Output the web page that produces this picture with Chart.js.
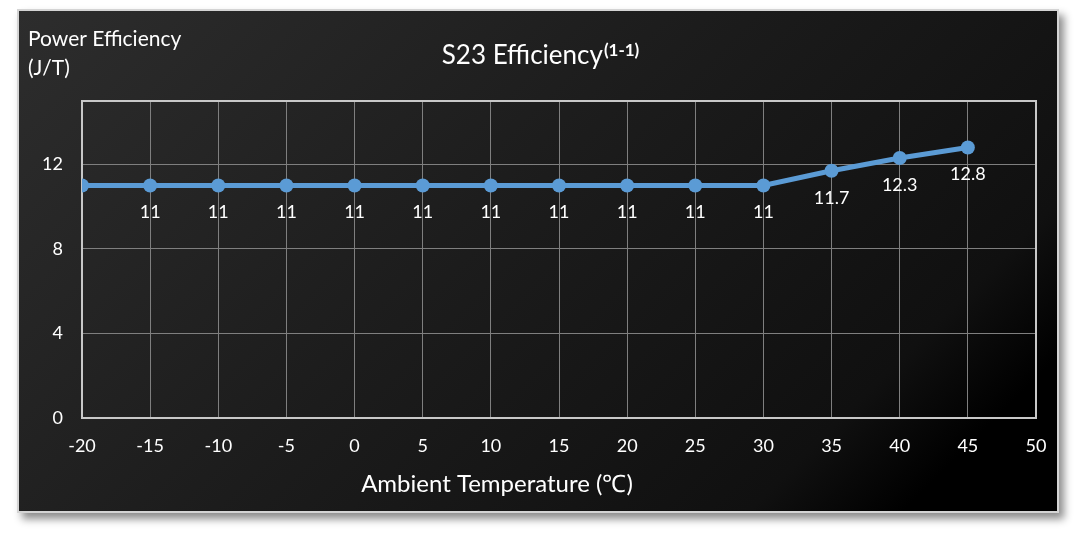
<!DOCTYPE html>
<html>
<head>
<meta charset="utf-8">
<script src="https://cdn.jsdelivr.net/npm/chart.js@4.4.0/dist/chart.umd.min.js"></script>
<style>
    body { margin: 0; background: #ffffff; width: 1076px; height: 538px; overflow: hidden; }
    #cadre {
        position: absolute; left: 17px; top: 9px;
        width: 1038px; height: 500px;
        border: 2px solid #d4d4d4;
        background: linear-gradient(135deg, #2d2d2d 0%, #1c1c1c 45%, #101010 80%, #000000 90%);
        box-shadow: 5px 6px 8px rgba(0,0,0,0.45);
    }
    canvas { display: block; }
</style>
</head>
<body>
<div id="cadre"><canvas id="chart" width="1038" height="500"></canvas></div>
<script>
// données
const temperatures = [-20, -15, -10, -5, 0, 5, 10, 15, 20, 25, 30, 35, 40, 45];
const efficacite = [11, 11, 11, 11, 11, 11, 11, 11, 11, 11, 11, 11.7, 12.3, 12.8];
const ticksY = [0, 4, 8, 12];

const police = "Lato, 'Open Sans', sans-serif";

// titre, libellés d'axes, étiquettes de valeurs
const textes = {
    id: "textes",
    beforeDatasetsDraw(chart) {
        const ctx = chart.ctx;
        const a = chart.chartArea;
        ctx.save();
        ctx.strokeStyle = "#c8c8c8";
        ctx.lineWidth = 2;
        ctx.strokeRect(a.left, a.top, a.right - a.left, a.bottom - a.top);
        ctx.restore();
    },
    afterDatasetsDraw(chart) {
        const ctx = chart.ctx;
        ctx.save();
        ctx.fillStyle = "#ffffff";
        // titre avec exposant
        ctx.textBaseline = "alphabetic";
        const t1 = "S23 Efficiency";
        ctx.font = "26px " + police;
        const w1 = ctx.measureText(t1).width;
        ctx.font = "bold 17px " + police;
        const w2 = ctx.measureText("(1-1)").width;
        let x = 521 - (w1 + w2) / 2;
        ctx.font = "26px " + police;
        ctx.textAlign = "left";
        ctx.fillText(t1, x, 53);
        ctx.font = "bold 17px " + police;
        ctx.fillText("(1-1)", x + w1 + 1, 45);
        // axe y
        ctx.font = "21px " + police;
        ctx.textBaseline = "middle";
        ctx.fillText("Power Efficiency", 9, 28);
        ctx.fillText("(J/T)", 9, 57);
        // axe x
        ctx.textAlign = "center";
        ctx.font = "24px " + police;
        ctx.fillText("Ambient Temperature (\u2103)", 478, 473);
        // étiquettes
        ctx.font = "18px " + police;
        const meta = chart.getDatasetMeta(0);
        meta.data.forEach((p, i) => {
            if (i === 0) return;
            ctx.fillText(String(efficacite[i]), p.x, p.y + 27);
        });
        ctx.restore();
    }
};

new Chart(document.getElementById("chart"), {
    type: "line",
    data: {
        datasets: [{
            data: temperatures.map((t, i) => ({ x: t, y: efficacite[i] })),
            borderColor: "#5b9bd5",
            backgroundColor: "#5b9bd5",
            borderWidth: 5,
            pointRadius: 7,
            pointHoverRadius: 7,
            pointBorderWidth: 0,
            tension: 0
        }]
    },
    options: {
        responsive: false,
        animation: false,
        layout: { padding: { left: 0, right: 21, top: 90, bottom: 0 } },
        plugins: { legend: { display: false }, tooltip: { enabled: false } },
        scales: {
            x: {
                type: "linear",
                min: -20,
                max: 50,
                ticks: { stepSize: 5, color: "#ffffff", font: { size: 18, family: police }, padding: 0 },
                grid: { color: "#7f7f7f", lineWidth: 1, drawTicks: true, tickLength: 17, tickColor: "rgba(0,0,0,0)" },
                border: { display: false },
                afterFit(s) { s.height = 93; }
            },
            y: {
                min: 0,
                max: 15,
                afterBuildTicks(s) { s.ticks = ticksY.map(v => ({ value: v })); },
                ticks: { color: "#ffffff", font: { size: 18, family: police }, padding: 19 },
                grid: { color: "#7f7f7f", lineWidth: 1, drawTicks: false },
                border: { display: false },
                afterFit(s) { s.width = 63; }
            }
        }
    },
    plugins: [textes]
});
</script>
</body>
</html>
